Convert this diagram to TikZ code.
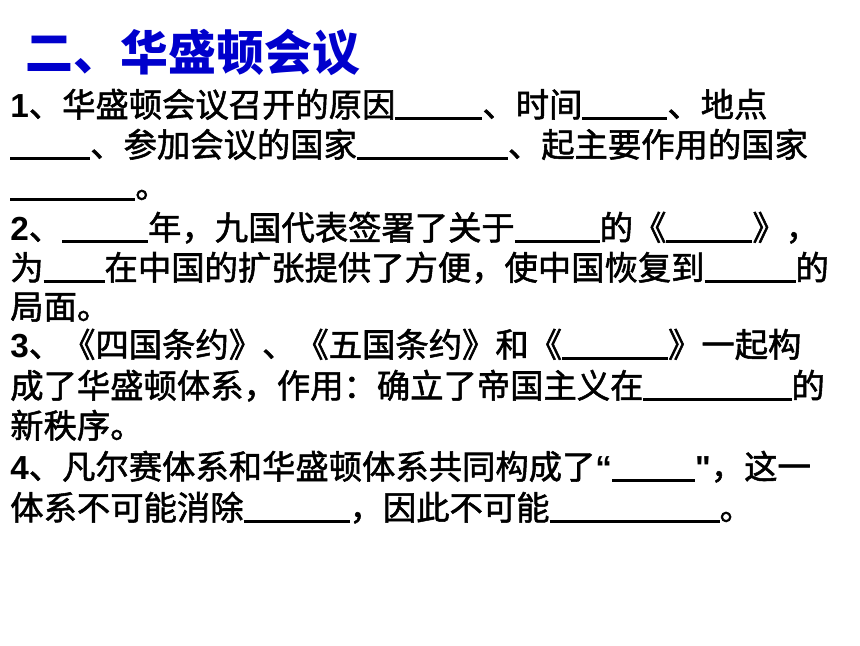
\documentclass[tikz,border=0pt]{standalone}
\usepackage{fontspec}
\setmainfont{Liberation Sans}
\newfontfamily\cjk{Noto Sans CJK SC}[FakeBold=1.6]
\newfontfamily\cjkhd{Noto Sans CJK SC}
\newfontfamily\dg{Liberation Sans}
\newlength\px
\setlength\px{0.7113pt}
\newcommand\blank[1]{\rule[-3\px]{#1\px}{3\px}}
\definecolor{ttlblue}{RGB}{0,0,204}
\tikzset{
  ln/.style={anchor=base west,inner sep=0pt,font=\cjk\fontsize{23.7}{28}\selectfont},
  ttl/.style={anchor=base west,inner sep=0pt,text=ttlblue,font=\cjkhd\bfseries\fontsize{34}{40}\selectfont}
}
\begin{document}
\begin{tikzpicture}[x=0.025cm,y=-0.025cm]
  \useasboundingbox (0,0) rectangle (860,645);
  \node[ttl] (title) at (25,70) {二、华盛顿会议};
  % 四道填空题，每行一个节点
  \foreach \n/\y/\t in {
    q1a/117/{{\dg\bfseries 1}、华盛顿会议召开的原因\blank{87}、时间\blank{85}、地点},
    q1b/157/{\blank{80}、参加会议的国家\blank{151}、起主要作用的国家},
    q1c/198/{\blank{125}。},
    q2a/240/{{\dg\bfseries 2}、\blank{86}年，九国代表签署了关于\blank{85}的《\blank{86}》，},
    q2b/280/{为\blank{61}在中国的扩张提供了方便，使中国恢复到\blank{91}的},
    q2c/319/{局面。},
    q3a/357/{{\dg\bfseries 3}、《四国条约》、《五国条约》和《\blank{106}》一起构},
    q3b/398/{成了华盛顿体系，作用：确立了帝国主义在\blank{148}的},
    q3c/438/{新秩序。},
    q4a/479/{{\dg\bfseries 4}、凡尔赛体系和华盛顿体系共同构成了{\dg\bfseries “}\blank{83}{\dg\bfseries "}，这一},
    q4b/520/{体系不可能消除\blank{106}，因此不可能\blank{170}。}}
    \node[ln] (\n) at (10,\y) {\t};
\end{tikzpicture}
\end{document}
